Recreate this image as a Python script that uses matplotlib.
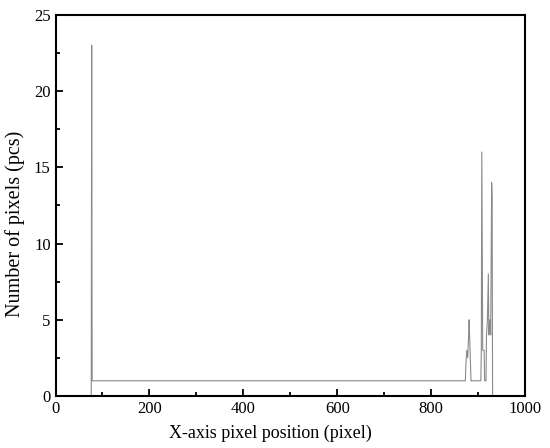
import matplotlib
matplotlib.use("Agg")
import matplotlib.pyplot as plt
from matplotlib.ticker import MultipleLocator

plt.rcParams['font.family'] = ['Liberation Serif', 'DejaVu Serif']

# pixel positions (x) and counts (y)
x_pos = [76, 77, 77.5, 78, 79, 873, 874, 876, 878, 880, 881, 883, 885, 886,
         906, 907, 908, 910, 913, 914, 917, 918, 920, 922, 923, 925, 927, 929, 930, 931]
counts = [0, 23, 10, 1, 1, 1, 2, 3, 2.5, 4, 5, 3, 1, 1,
          1, 3, 16, 3, 3, 1, 1, 4, 5, 8, 4, 5, 4, 14, 13, 0]

xticks = [0, 200, 400, 600, 800, 1000]
yticks = [0, 5, 10, 15, 20, 25]

fig = plt.figure(figsize=(5.5, 4.48), dpi=100)
ax = fig.add_axes([0.101, 0.116, 0.8535, 0.851])
ax.plot(x_pos, counts, color='#8a8a8a', lw=0.8)

ax.set_xlim(0, 1000)
ax.set_ylim(0, 25)
ax.set_xticks(xticks)
ax.set_yticks(yticks)
ax.xaxis.set_minor_locator(MultipleLocator(100))
ax.yaxis.set_minor_locator(MultipleLocator(2.5))
ax.tick_params(which='both', direction='in', top=False, right=False, labelsize=12, width=1.3)
ax.tick_params(which='major', length=5)
ax.tick_params(which='minor', length=3)
for s in ax.spines.values():
    s.set_linewidth(1.5)

ax.set_xlabel('X-axis pixel position (pixel)', fontsize=13)
ax.set_ylabel('Number of pixels (pcs)', fontsize=14.5)
ax.xaxis.set_label_coords(0.457, -0.074)
ax.yaxis.set_label_coords(-0.066, 0.451)

fig.savefig('out.png', dpi=100)
